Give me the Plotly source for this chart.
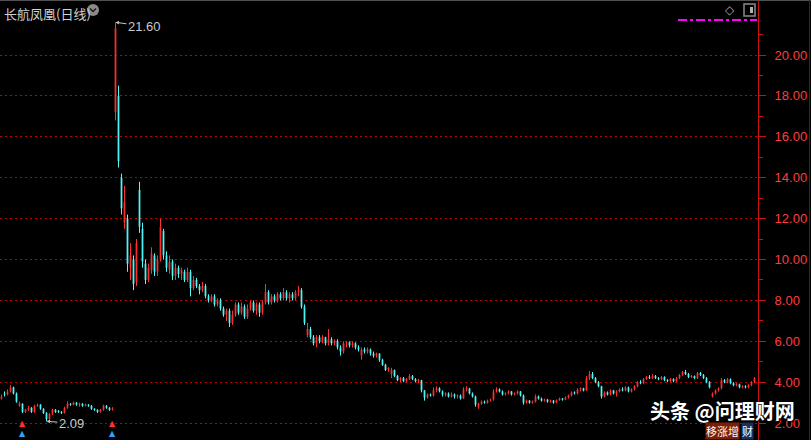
import plotly.graph_objects as go

# daily bars, oldest first; the left block is before the long suspension
opens = [
    3.2, 3.45, 3.4, 3.55, 3.75, 3.45, 2.85, 2.95, 2.55, 2.65,
    2.75, 2.55, 2.85, 2.9, 2.7, 2.5, 2.2, 2.45, 2.65, 2.6,
    2.55, 2.5, 2.75, 2.95, 2.9, 3.0, 2.9, 2.95, 2.85, 2.9,
    2.85, 2.7, 2.65, 2.55, 2.65, 2.85, 2.75, 2.65,
    17.2, 18.0, 14.0, 11.8, 12.0, 9.6, 10.0, 8.9, 13.4, 11.5,
    9.8, 9.0, 9.5, 10.2, 9.4, 10.0, 11.4, 10.2, 9.5, 9.9,
    9.2, 9.6, 9.3, 9.4, 9.0, 9.4, 8.6, 9.0, 8.7, 8.5,
    8.7, 8.2, 8.0, 8.2, 7.8, 8.0, 7.6, 7.3, 7.5, 6.9,
    7.3, 7.8, 7.4, 7.7, 7.2, 7.6, 7.9, 7.5, 7.8, 7.4,
    7.9, 8.4, 7.9, 8.2, 8.0, 8.3, 8.1, 8.4, 8.1, 8.3,
    8.1, 8.4, 8.5, 7.7, 6.3, 6.6, 6.2, 5.9, 6.2, 6.0,
    6.2, 5.9, 6.1, 5.9, 6.0, 5.7, 5.5, 5.9, 5.95, 5.8,
    5.9, 5.7, 5.3, 5.6, 5.5, 5.6, 5.4, 5.3, 5.4, 5.1,
    4.85, 4.6, 4.4, 4.6, 4.3, 4.1, 4.2, 4.05, 4.15, 4.3,
    4.15, 4.05, 4.1, 3.6, 3.25, 3.4, 3.35, 3.6, 3.7, 3.55,
    3.4, 3.45, 3.3, 3.4, 3.3, 3.35, 3.2, 3.65, 3.7, 3.45,
    3.3, 2.8, 2.95, 3.05, 3.0, 3.1, 3.15, 3.55, 3.65, 3.55,
    3.4, 3.45, 3.55, 3.4, 3.45, 3.55, 3.35, 3.0, 3.1, 3.0,
    3.05, 3.3, 3.2, 3.1, 3.15, 3.05, 3.1, 3.0, 3.12, 3.2,
    3.15, 3.25, 3.35, 3.5, 3.45, 3.65, 3.7, 3.6, 4.2, 4.4,
    4.2, 4.0, 3.8, 3.3, 3.5, 3.4, 3.6, 3.45, 3.55, 3.65,
    3.6, 3.75, 3.55, 3.65, 3.8, 4.0, 3.95, 4.15, 4.25, 4.2,
    4.3, 4.2, 4.15, 4.25, 4.1, 4.05, 4.15, 4.05, 4.2, 4.35,
    4.5, 4.4, 4.25, 4.3, 4.2, 4.45, 4.35, 4.2, 4.0, 3.3,
    3.45, 3.6, 3.7, 4.1, 4.0, 4.15, 3.95, 3.85, 3.9, 3.75,
    3.8, 3.75, 3.85, 4.0,
]
highs = [
    3.4, 3.55, 3.65, 3.85, 3.78, 3.5, 3.05, 2.95, 2.7, 2.85,
    2.78, 2.9, 2.95, 2.92, 2.72, 2.52, 2.5, 2.7, 2.68, 2.62,
    2.58, 2.8, 3.05, 2.98, 3.05, 3.02, 3.0, 2.97, 2.95, 2.92,
    2.87, 2.72, 2.66, 2.7, 2.9, 2.88, 2.78, 2.78,
    21.6, 18.5, 14.2, 13.6, 12.2, 10.8, 10.2, 11.0, 13.8, 11.8,
    10.0, 9.8, 10.6, 10.3, 10.2, 12.0, 11.5, 10.4, 10.2, 10.0,
    9.8, 9.7, 9.6, 9.5, 9.6, 9.5, 9.2, 9.1, 8.8, 8.9,
    8.8, 8.3, 8.3, 8.3, 8.1, 8.1, 7.7, 7.6, 7.6, 7.5,
    7.9, 7.9, 7.9, 7.8, 7.8, 8.0, 8.0, 7.9, 7.9, 8.0,
    8.8, 8.5, 8.3, 8.3, 8.4, 8.4, 8.6, 8.5, 8.4, 8.4,
    8.5, 8.7, 8.6, 7.8, 6.9, 6.7, 6.3, 6.3, 6.3, 6.3,
    6.2, 6.6, 6.2, 6.1, 6.1, 5.8, 6.0, 6.0, 6.0, 6.0,
    5.95, 5.8, 5.7, 5.7, 5.7, 5.65, 5.5, 5.45, 5.4, 5.15,
    4.9, 4.75, 4.7, 4.6, 4.35, 4.25, 4.25, 4.2, 4.4, 4.35,
    4.2, 4.15, 4.1, 3.6, 3.45, 3.45, 3.75, 3.8, 3.75, 3.6,
    3.5, 3.5, 3.5, 3.45, 3.4, 3.4, 3.75, 3.8, 3.72, 3.5,
    3.35, 3.0, 3.1, 3.1, 3.15, 3.2, 3.65, 3.75, 3.7, 3.6,
    3.5, 3.6, 3.55, 3.5, 3.6, 3.55, 3.4, 3.15, 3.12, 3.1,
    3.4, 3.35, 3.25, 3.2, 3.18, 3.15, 3.12, 3.15, 3.25, 3.22,
    3.3, 3.4, 3.55, 3.55, 3.7, 3.75, 3.72, 4.3, 4.55, 4.5,
    4.25, 4.05, 3.82, 3.55, 3.55, 3.65, 3.62, 3.6, 3.7, 3.75,
    3.8, 3.78, 3.7, 3.85, 4.05, 4.1, 4.2, 4.3, 4.35, 4.4,
    4.35, 4.25, 4.3, 4.28, 4.15, 4.2, 4.18, 4.25, 4.4, 4.55,
    4.6, 4.45, 4.35, 4.32, 4.5, 4.5, 4.4, 4.25, 4.05, 3.5,
    3.65, 3.75, 4.2, 4.15, 4.2, 4.18, 4.0, 3.95, 3.92, 3.85,
    3.85, 3.9, 4.05, 4.25,
]
lows = [
    3.15, 3.3, 3.35, 3.5, 3.4, 3.0, 2.8, 2.5, 2.5, 2.6,
    2.5, 2.5, 2.8, 2.65, 2.45, 2.09, 2.15, 2.4, 2.5, 2.5,
    2.45, 2.48, 2.7, 2.85, 2.88, 2.85, 2.8, 2.8, 2.82, 2.8,
    2.65, 2.6, 2.5, 2.52, 2.6, 2.7, 2.6, 2.62,
    16.8, 14.5, 12.2, 11.5, 9.4, 9.0, 8.5, 8.7, 11.3, 9.6,
    8.8, 8.9, 9.3, 9.2, 9.2, 9.9, 10.0, 9.4, 9.3, 9.0,
    9.0, 9.1, 9.0, 8.9, 8.9, 8.2, 8.5, 8.6, 8.3, 8.4,
    8.1, 7.9, 7.9, 7.7, 7.7, 7.5, 7.2, 7.0, 6.7, 6.8,
    7.2, 7.3, 7.3, 7.1, 7.1, 7.5, 7.4, 7.3, 7.2, 7.3,
    7.8, 7.8, 7.8, 7.9, 7.9, 8.0, 8.0, 8.0, 7.9, 8.0,
    8.0, 8.2, 7.6, 6.8, 6.2, 6.1, 5.8, 5.7, 5.9, 5.9,
    5.8, 5.8, 5.8, 5.8, 5.6, 5.3, 5.4, 5.7, 5.7, 5.7,
    5.6, 5.5, 5.1, 5.4, 5.4, 5.3, 5.2, 5.2, 5.0, 4.8,
    4.55, 4.5, 4.2, 4.25, 4.05, 4.0, 4.0, 4.0, 4.1, 4.1,
    4.0, 3.95, 3.5, 3.1, 3.2, 3.3, 3.3, 3.5, 3.5, 3.3,
    3.3, 3.25, 3.25, 3.2, 3.2, 3.15, 3.2, 3.55, 3.4, 3.25,
    2.8, 2.7, 2.9, 2.95, 2.95, 3.05, 3.1, 3.5, 3.5, 3.35,
    3.35, 3.4, 3.35, 3.35, 3.4, 3.3, 2.9, 2.95, 2.95, 2.95,
    3.0, 3.15, 3.05, 3.05, 3.0, 3.0, 2.95, 2.98, 3.1, 3.1,
    3.12, 3.2, 3.3, 3.4, 3.4, 3.55, 3.55, 3.6, 4.1, 4.15,
    3.95, 3.75, 3.2, 3.25, 3.35, 3.35, 3.4, 3.3, 3.5, 3.55,
    3.55, 3.5, 3.5, 3.6, 3.75, 3.9, 3.9, 4.1, 4.15, 4.15,
    4.15, 4.1, 4.1, 4.05, 4.0, 4.0, 4.0, 4.0, 4.15, 4.3,
    4.35, 4.2, 4.2, 4.15, 4.15, 4.3, 4.15, 3.95, 3.7, 3.25,
    3.4, 3.55, 3.65, 3.95, 3.95, 3.9, 3.8, 3.8, 3.7, 3.7,
    3.7, 3.7, 3.8, 3.95,
]
closes = [
    3.3, 3.4, 3.55, 3.75, 3.45, 3.05, 2.95, 2.55, 2.65, 2.75,
    2.55, 2.85, 2.9, 2.7, 2.5, 2.2, 2.45, 2.65, 2.55, 2.55,
    2.5, 2.75, 2.95, 2.9, 3.0, 2.9, 2.95, 2.85, 2.9, 2.85,
    2.7, 2.65, 2.55, 2.65, 2.85, 2.75, 2.65, 2.7,
    21.3, 14.8, 12.5, 12.8, 9.8, 10.2, 8.8, 10.8, 11.6, 9.9,
    9.0, 9.6, 10.3, 9.4, 10.0, 11.6, 10.2, 9.6, 9.9, 9.2,
    9.6, 9.3, 9.5, 9.0, 9.4, 8.6, 9.0, 8.7, 8.5, 8.7,
    8.2, 8.0, 8.2, 7.8, 8.0, 7.6, 7.3, 7.5, 6.9, 7.3,
    7.8, 7.4, 7.7, 7.2, 7.6, 7.9, 7.5, 7.8, 7.4, 7.9,
    8.4, 7.9, 8.2, 8.0, 8.3, 8.1, 8.4, 8.1, 8.3, 8.1,
    8.4, 8.5, 7.7, 6.9, 6.6, 6.2, 5.9, 6.2, 6.0, 6.2,
    5.9, 6.1, 5.9, 6.0, 5.7, 5.5, 5.9, 5.95, 5.8, 5.9,
    5.7, 5.6, 5.6, 5.5, 5.6, 5.4, 5.3, 5.4, 5.1, 4.85,
    4.6, 4.7, 4.6, 4.3, 4.1, 4.2, 4.05, 4.15, 4.3, 4.15,
    4.05, 4.1, 3.6, 3.25, 3.4, 3.35, 3.6, 3.7, 3.55, 3.4,
    3.45, 3.3, 3.4, 3.3, 3.35, 3.2, 3.65, 3.7, 3.45, 3.3,
    2.9, 2.95, 3.05, 3.0, 3.1, 3.15, 3.55, 3.65, 3.55, 3.4,
    3.45, 3.55, 3.4, 3.45, 3.55, 3.35, 3.0, 3.1, 3.0, 3.05,
    3.3, 3.2, 3.1, 3.15, 3.05, 3.1, 3.0, 3.12, 3.2, 3.15,
    3.25, 3.35, 3.5, 3.45, 3.65, 3.7, 3.6, 4.2, 4.4, 4.2,
    4.0, 3.8, 3.3, 3.5, 3.4, 3.6, 3.45, 3.55, 3.65, 3.6,
    3.75, 3.55, 3.65, 3.8, 4.0, 3.95, 4.15, 4.25, 4.2, 4.3,
    4.2, 4.15, 4.25, 4.1, 4.05, 4.15, 4.05, 4.2, 4.35, 4.5,
    4.4, 4.25, 4.3, 4.2, 4.45, 4.35, 4.2, 4.0, 3.75, 3.45,
    3.6, 3.7, 4.1, 4.0, 4.15, 3.95, 3.85, 3.9, 3.75, 3.8,
    3.75, 3.85, 4.0, 4.2,
]
assert len(opens) == len(highs) == len(lows) == len(closes)

price_ticks = [2, 4, 6, 8, 10, 12, 14, 16, 18, 20]
high_idx, high_val = 38, 21.60
low_idx, low_val = 15, 2.09
signal_idx = [7, 37]

UP = '#FF3232'
DOWN = '#54FCFC'
GRID = '#C00000'
AXIS = '#D01010'
W, H, R = 811, 440, 53
PW = W - R


def px_x(p):
    return p / PW


def px_y(p):
    return 1 - p / H


x = list(range(len(closes)))

fig = go.Figure(go.Candlestick(
    x=x, open=opens, high=highs, low=lows, close=closes,
    increasing=dict(line=dict(color=UP, width=1), fillcolor=UP),
    decreasing=dict(line=dict(color=DOWN, width=1), fillcolor=DOWN),
    whiskerwidth=0,
    hoverinfo='skip',
))

shapes = [
    # magenta indicator strip, top right
    dict(type='line', xref='paper', yref='paper', x0=px_x(678), x1=px_x(757),
         y0=px_y(20), y1=px_y(20), line=dict(color='#FF00FF', width=2, dash='dashdot')),
    # dropdown button next to title
    dict(type='circle', xref='paper', yref='paper', x0=px_x(87), x1=px_x(99),
         y0=px_y(16), y1=px_y(4), fillcolor='#8A8A8A', line=dict(width=0)),
    dict(type='path', xref='paper', yref='paper',
         path=f'M {px_x(90)},{px_y(8.5)} L {px_x(93)},{px_y(11.5)} L {px_x(96)},{px_y(8.5)}',
         line=dict(color='#1A1A1A', width=1.5)),
    # little window icon
    dict(type='rect', xref='paper', yref='paper', x0=px_x(744), x1=px_x(755),
         y0=px_y(16), y1=px_y(4), line=dict(color='#8A8A8A', width=1.5)),
    dict(type='rect', xref='paper', yref='paper', x0=px_x(750), x1=px_x(753),
         y0=px_y(13), y1=px_y(7), fillcolor='#B0B0B0', line=dict(width=0)),
    # frame lines
    dict(type='line', xref='paper', yref='paper', x0=0, x1=W / PW, y0=px_y(0.5), y1=px_y(0.5),
         line=dict(color='#505050', width=1)),
    dict(type='line', xref='paper', yref='paper', x0=px_x(809.5), x1=px_x(809.5), y0=0, y1=1,
         line=dict(color='#900000', width=1)),
]

annotations = [
    dict(text='长航凤凰(日线)', xref='paper', yref='paper', x=px_x(2), y=px_y(2),
         xanchor='left', yanchor='top', showarrow=False,
         font=dict(size=13, color='#D0D0D0', family='Noto Sans CJK SC')),
    dict(text='◇', xref='paper', yref='paper', x=px_x(730), y=px_y(10),
         xanchor='center', yanchor='middle',
         showarrow=False, font=dict(size=12, color='#A0A0A0', family='DejaVu Sans')),
    dict(text='21.60', x=high_idx, y=high_val, ax=29, ay=4, showarrow=True,
         arrowhead=2, arrowsize=0.7, arrowwidth=1, arrowcolor='#C8C8C8',
         font=dict(size=13, color='#C8C8C8', family='Liberation Sans')),
    dict(text=f'{low_val:.2f}', x=low_idx, y=low_val, ax=25, ay=2, showarrow=True,
         arrowhead=2, arrowsize=0.7, arrowwidth=1, arrowcolor='#C8C8C8',
         font=dict(size=13, color='#C8C8C8', family='Liberation Sans')),
    dict(text='<b>头条 @问理财网</b>', xref='paper', yref='paper', x=px_x(722), y=px_y(410),
         xanchor='center', yanchor='middle', showarrow=False,
         font=dict(size=20, color='#FFFFFF', family='Noto Sans CJK SC', shadow='1px 1px 2px #000')),
    dict(text='移涨增', xref='paper', yref='paper', x=px_x(705), y=px_y(440),
         xanchor='left', yanchor='bottom', showarrow=False, bgcolor='#7A1E0A', borderpad=0,
         font=dict(size=11, color='#FFFFFF', family='Noto Sans CJK SC')),
    dict(text='财', xref='paper', yref='paper', x=px_x(741), y=px_y(440),
         xanchor='left', yanchor='bottom', showarrow=False, bgcolor='#1C2F5A', borderpad=0,
         font=dict(size=11, color='#FFFFFF', family='Noto Sans CJK SC')),
]
# buy-signal arrows under the bars
for i in signal_idx:
    annotations.append(dict(
        text="<span style='color:#FF3030'>▲</span><br><span style='color:#30A0FF'>▲</span>",
        x=i, xref='x', yref='paper', y=0, xanchor='center', yanchor='bottom', showarrow=False,
        font=dict(size=8, family='DejaVu Sans')))

fig.update_layout(
    width=W, height=H,
    paper_bgcolor='#000000', plot_bgcolor='#000000',
    margin=dict(l=0, r=R, t=0, b=0),
    showlegend=False,
    boxgap=0.65,
    xaxis=dict(range=[-0.5, PW / 3 - 0.5], visible=False,
               rangeslider=dict(visible=False), fixedrange=True),
    yaxis=dict(side='right', range=[1.174, 22.69],
               tickmode='array', tickvals=price_ticks,
               ticktext=[f'{v:.2f}' for v in price_ticks],
               showgrid=True, gridcolor=GRID, griddash='2px,3px', gridwidth=1,
               showline=True, linecolor=AXIS, linewidth=1,
               ticks='outside', ticklen=7, tickcolor=AXIS, tickwidth=1,
               ticklabelstandoff=6,
               minor=dict(tickmode='array', tickvals=[v + 1 for v in price_ticks],
                          ticks='outside', ticklen=4, tickcolor=AXIS, showgrid=False),
               tickfont=dict(size=13, color='#FF3C3C', family='Liberation Sans'),
               zeroline=False, fixedrange=True),
    shapes=shapes,
    annotations=annotations,
)

fig.write_html('out.html', config={'displayModeBar': False},
               post_script="document.body.style.margin='0';document.body.style.background='#000';")
